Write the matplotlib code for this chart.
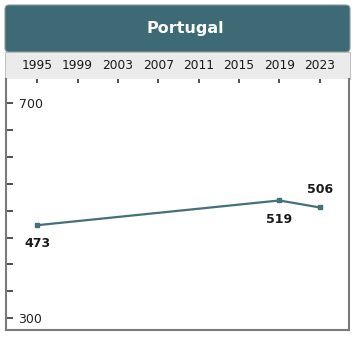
import numpy as np
import matplotlib
matplotlib.use('Agg')
from matplotlib import pyplot as plt
from matplotlib.patches import FancyBboxPatch, Rectangle

# data
country = 'Portugal'
years = [1995, 2019, 2023]
scores = [473, 519, 506]
year_ticks = [1995, 1999, 2003, 2007, 2011, 2015, 2019, 2023]
score_ticks = [300, 350, 400, 450, 500, 550, 600, 650, 700]
score_labels = ['300', '', '', '', '', '', '', '', '700']

teal = '#3d6a75'
line_col = '#44707a'
W, H = 356, 338

fig = plt.figure(figsize=(W / 100, H / 100), dpi=100)
plt.rcParams['font.family'] = ['DejaVu Sans']

def fx(px):
    return px / W

def fy(py):
    return 1 - py / H

# header band (title) and year strip
hdr = FancyBboxPatch((fx(5), fy(52)), fx(345), (47) / H,
                     boxstyle='round,pad=0,rounding_size=0.012',
                     transform=fig.transFigure, facecolor=teal,
                     edgecolor='#8a9a9e', lw=0.8, zorder=-2)
fig.patches.append(hdr)
strip = Rectangle((fx(5), fy(79)), fx(345), 27 / H, transform=fig.transFigure,
                  facecolor='#ebebeb', edgecolor='#b8b8b8', lw=0.6, zorder=-1)
fig.patches.append(strip)
fig.text(fx(185), fy(29), country, color='white', fontsize=11.5,
         fontweight='bold', ha='center', va='center')

ax = fig.add_axes([fx(6), fy(330), fx(343), (330 - 79) / H])
ax.plot(years, scores, color=line_col, lw=1.6, marker='s', ms=3.5,
        mec=line_col, mfc=line_col)
ax.set_xlim(1991.9, 2025.9)
ax.set_ylim(278, 745)

ax.set_yticks(score_ticks)
ax.set_yticklabels(score_labels, fontsize=9, color='#222222')
ax.tick_params(axis='y', direction='in', length=5, width=1.2,
               color='#333333', pad=-9)
for t in ax.get_yticklabels():
    t.set_ha('left')

# year labels sit in the grey strip above the plot
ax.set_xticks(year_ticks)
ax.xaxis.tick_top()
ax.set_xticklabels([str(y) for y in year_ticks], fontsize=8.8, color='#1a1a1a')
ax.tick_params(axis='x', direction='in', length=3, width=1.2,
               color='#333333', pad=5)

for side in ['left', 'bottom', 'right']:
    ax.spines[side].set_color('#7a7a7a')
    ax.spines[side].set_linewidth(1.5)
ax.spines['top'].set_visible(False)

# value labels
offsets = [(0, -13), (0, -14), (0, 13)]
for x, y, (dx, dy) in zip(years, scores, offsets):
    ax.annotate(str(y), (x, y), xytext=(dx, dy), textcoords='offset points',
                ha='center', va='center', fontsize=9, fontweight='bold',
                color='#1a1a1a')

fig.savefig('out.png', dpi=100)
